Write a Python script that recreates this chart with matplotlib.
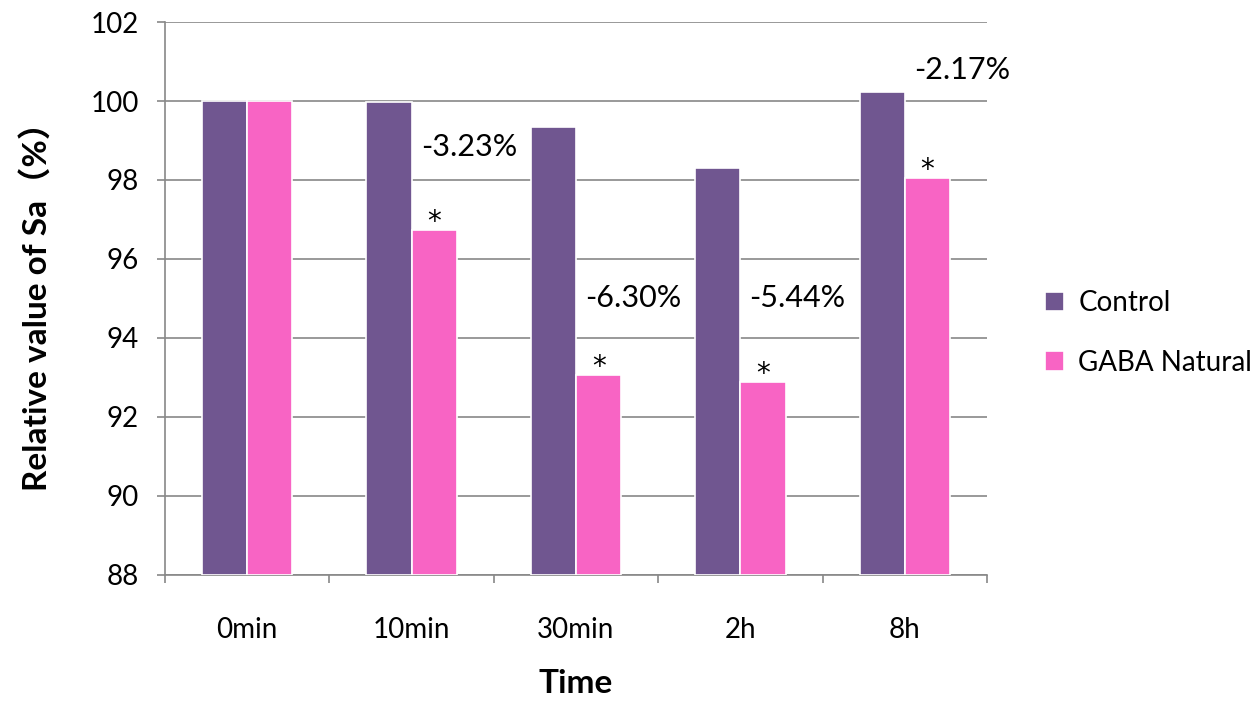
import matplotlib.pyplot as plt
import numpy as np

categories = ['0min', '10min', '30min', '2h', '8h']
control = [100.0, 99.97, 99.34, 98.30, 100.23]
gaba = [100.0, 96.73, 93.06, 92.89, 98.05]
changes = ['', '-3.23%', '-6.30%', '-5.44%', '-2.17%']
signif = [False, True, True, True, True]

# vertical offset of each change label above the GABA bar
label_lift = [0, 2.1, 1.95, 2.12, 2.73]

plt.rcParams['font.family'] = ['Lato', 'Noto Sans CJK SC', 'DejaVu Sans']

fig = plt.figure(figsize=(12.53, 7.01), dpi=100)
ax = fig.add_axes([0.1317, 0.1798, 0.656, 0.7888])

x = np.arange(len(categories))
w = 0.275
ax.bar(x - w / 2, np.array(control) - 88, w, bottom=88, color='#705690',
       edgecolor='white', linewidth=1.2, label='Control', zorder=3)
ax.bar(x + w / 2, np.array(gaba) - 88, w, bottom=88, color='#F864C4',
       edgecolor='white', linewidth=1.2, label='GABA Natural', zorder=3)

for i in range(len(categories)):
    if changes[i]:
        ax.text(x[i] + 0.055, gaba[i] + label_lift[i], changes[i],
                fontsize=22, ha='left', va='center')
    if signif[i]:
        ax.text(x[i] + w / 2, gaba[i] + 0.2, '*', fontsize=20,
                family='DejaVu Sans', ha='center', va='center')

ax.set_ylim(88, 102)
ax.set_xlim(-0.5, len(categories) - 0.5)
ax.set_yticks(range(88, 103, 2))
ax.set_xticks(x)
ax.set_xticklabels(categories)
ax.set_xticks(np.arange(-0.5, len(categories)), minor=True)
ax.tick_params(axis='x', which='major', length=0, pad=30, labelsize=20)
ax.tick_params(axis='x', which='minor', length=6, color='#888888', width=1.2)
ax.tick_params(axis='y', length=6, color='#888888', width=1.2, pad=13, labelsize=20)

ax.yaxis.grid(True, color='#888888', linewidth=1.2, zorder=0)
for side in ['top', 'right']:
    ax.spines[side].set_visible(False)
for side in ['left', 'bottom']:
    ax.spines[side].set_color('#888888')
    ax.spines[side].set_linewidth(1.2)

ax.set_xlabel('Time', fontsize=24, fontweight='bold', labelpad=19)
ax.set_ylabel('Relative value of Sa（%）', fontsize=24, fontweight='bold', labelpad=28)

ax.legend(loc='center left', bbox_to_anchor=(1.04, 0.4376), frameon=False,
          fontsize=20, handlelength=0.7, handleheight=0.7, labelspacing=1.2,
          handletextpad=0.5)

fig.savefig('out.png', dpi=100)
